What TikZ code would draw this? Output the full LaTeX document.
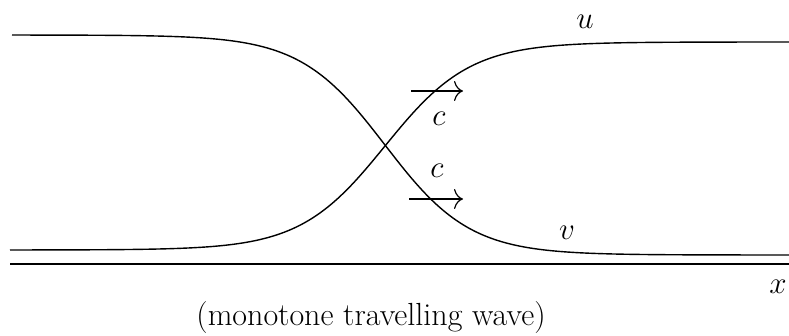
\documentclass[tikz,border=0pt]{standalone}
\usetikzlibrary{arrows.meta}
\begin{document}
\begin{tikzpicture}[x=1pt,y=1pt,line width=1.4pt,
  wave/.style={smooth,samples=120},
  speed/.style={-{To[length=9pt,width=20pt]},line width=1.2pt},
  lbl/.style={font=\fontsize{24.88}{30}\selectfont,inner sep=0pt,scale=1.25}]
\useasboundingbox (0,0) rectangle (789,335);
% the two fronts
\draw[wave,domain=12:789] plot (\x,{190-110*tanh((\x-385)/85)});
\draw[wave,domain=10:789] plot (\x,{189+104*tanh((\x-385)/85)});
% axis
\coordinate (x0) at (10,71);
\coordinate (x1) at (789,71);
\draw (x0) -- (x1);
% speed arrows
\coordinate (a0) at (411,244);
\coordinate (a1) at (463,244);
\coordinate (b0) at (409,136);
\coordinate (b1) at (463,136);
\draw[speed] (a0) -- (a1);
\draw[speed] (b0) -- (b1);
\node[lbl] (cu) at (439,216) {$c$};
\node[lbl] (cv) at (437,164) {$c$};
\node[lbl] (u) at (585,313) {$u$};
\node[lbl] (v) at (567,102) {$v$};
\node[lbl] (x) at (778,48) {$x$};
\node[font=\fontsize{32}{36}\selectfont,inner sep=0pt] (cap) at (371,17) {(monotone travelling wave)};
\end{tikzpicture}
\end{document}
